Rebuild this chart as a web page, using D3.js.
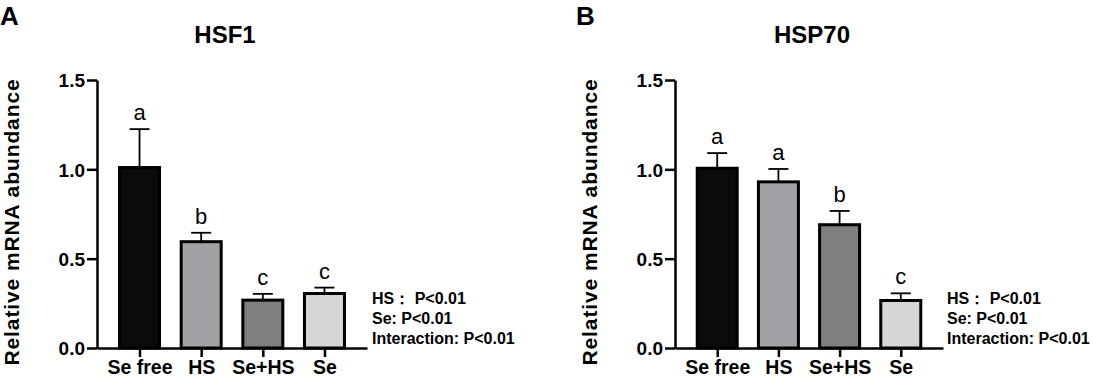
<!DOCTYPE html>
<html>
<head>
<meta charset="utf-8">
<script src="https://cdn.jsdelivr.net/npm/d3@7"></script>
<style>
  body { margin: 0; background: #fff; }
  svg { display: block; font-family: 'Liberation Sans', Arial, sans-serif; }
</style>
</head>
<body>
<div id="chart"></div>
<script>
const groups = ['Se free', 'HS', 'Se+HS', 'Se'];
const colors = ['#0b0b0b', '#a2a2a6', '#7e7f7f', '#d5d7d7'];

const hsf1Mean = [1.01, 0.595, 0.268, 0.305];
const hsf1Err = [0.215, 0.05, 0.035, 0.033];
const hsf1Letters = ['a', 'b', 'c', 'c'];

const hsp70Mean = [1.006, 0.93, 0.69, 0.266];
const hsp70Err = [0.085, 0.072, 0.077, 0.04];
const hsp70Letters = ['a', 'a', 'b', 'c'];

const yTicks = [0, 0.5, 1.0, 1.5];
const statLines = ['HS\uff1a P<0.01', 'Se: P<0.01', 'Interaction: P<0.01'];

const width = 1093;
const height = 382;

const svg = d3.select('#chart')
    .append('svg')
    .attr('width', width)
    .attr('height', height);

function renderPanel(opt) {
    let y = d3.scaleLinear()
        .domain([0, 1.5])
        .range([348, 80]);

    let x = d3.scalePoint()
        .domain(groups)
        .range([opt.left, opt.right])
        .padding(0.69);

    let g = svg.append('g');

    // panel letter + title
    g.append('text')
        .attr('x', opt.letterX)
        .attr('y', 25)
        .attr('font-size', 26)
        .attr('font-weight', 'bold')
        .text(opt.letter);

    g.append('text')
        .attr('x', opt.titleX)
        .attr('y', 43)
        .attr('text-anchor', 'middle')
        .attr('font-size', 24)
        .attr('font-weight', 'bold')
        .text(opt.title);

    // y axis label
    g.append('text')
        .attr('transform', `translate(${opt.labelX},222) rotate(-90)`)
        .attr('text-anchor', 'middle')
        .attr('font-size', 21)
        .attr('font-weight', 'bold')
        .attr('letter-spacing', 0.9)
        .text('Relative mRNA abundance');

    let bw = 40;

    // bars
    g.append('g')
        .selectAll('rect')
        .data(opt.mean)
        .join('rect')
        .attr('x', (d, i) => x(groups[i]) - bw / 2)
        .attr('y', d => y(d))
        .attr('width', bw)
        .attr('height', d => y(0) - y(d))
        .attr('fill', (d, i) => colors[i])
        .attr('stroke', '#000')
        .attr('stroke-width', 3);

    // error bars (upper only)
    let eg = g.append('g')
        .attr('stroke', '#000')
        .attr('stroke-width', 1.8);
    opt.mean.forEach((m, i) => {
        let cx = x(groups[i]);
        eg.append('line')
            .attr('x1', cx).attr('x2', cx)
            .attr('y1', y(m)).attr('y2', y(m + opt.err[i]));
        eg.append('line')
            .attr('x1', cx - 10).attr('x2', cx + 10)
            .attr('y1', y(m + opt.err[i])).attr('y2', y(m + opt.err[i]));
    });

    // significance letters
    g.append('g')
        .selectAll('text')
        .data(opt.letters)
        .join('text')
        .attr('x', (d, i) => x(groups[i]))
        .attr('y', (d, i) => y(opt.mean[i] + opt.err[i]) - 9)
        .attr('text-anchor', 'middle')
        .attr('font-size', 22)
        .text(d => d);

    // axes
    let yAxis = g.append('g')
        .attr('transform', `translate(${opt.left},0)`)
        .call(d3.axisLeft(y).tickValues(yTicks).tickFormat(d3.format('.1f')).tickSize(10).tickSizeOuter(0));
    yAxis.select('.domain').attr('stroke-width', 2.5);
    yAxis.selectAll('.tick line').attr('stroke-width', 2.5);
    yAxis.selectAll('.tick text')
        .attr('font-size', 19)
        .attr('font-weight', 'bold')
        .attr('font-family', "'Liberation Sans', Arial, sans-serif")
        .attr('fill', '#000')
        .attr('x', -12)
        .attr('dy', '0.36em');

    let xAxis = g.append('g')
        .attr('transform', `translate(0,${y(0)})`)
        .call(d3.axisBottom(x).tickSize(9).tickSizeOuter(0));
    xAxis.select('.domain').attr('stroke-width', 2.5);
    xAxis.selectAll('.tick line').attr('stroke-width', 2.5);
    xAxis.selectAll('.tick text')
        .attr('font-size', 19.5)
        .attr('font-weight', 'bold')
        .attr('font-family', "'Liberation Sans', Arial, sans-serif")
        .attr('fill', '#000')
        .attr('y', 12)
        .attr('dy', '0.71em');

    // stats
    g.append('g')
        .selectAll('text')
        .data(statLines)
        .join('text')
        .attr('x', opt.statX)
        .attr('y', (d, i) => 304 + i * 20)
        .attr('font-size', 16)
        .attr('font-weight', 'bold')
        .text(d => d);
}

renderPanel({
    letter: 'A', letterX: 0, title: 'HSF1', titleX: 225,
    labelX: 19, left: 97, right: 367, statX: 372,
    mean: hsf1Mean, err: hsf1Err, letters: hsf1Letters
});

renderPanel({
    letter: 'B', letterX: 576, title: 'HSP70', titleX: 812,
    labelX: 597, left: 675, right: 943, statX: 947,
    mean: hsp70Mean, err: hsp70Err, letters: hsp70Letters
});
</script>
</body>
</html>
